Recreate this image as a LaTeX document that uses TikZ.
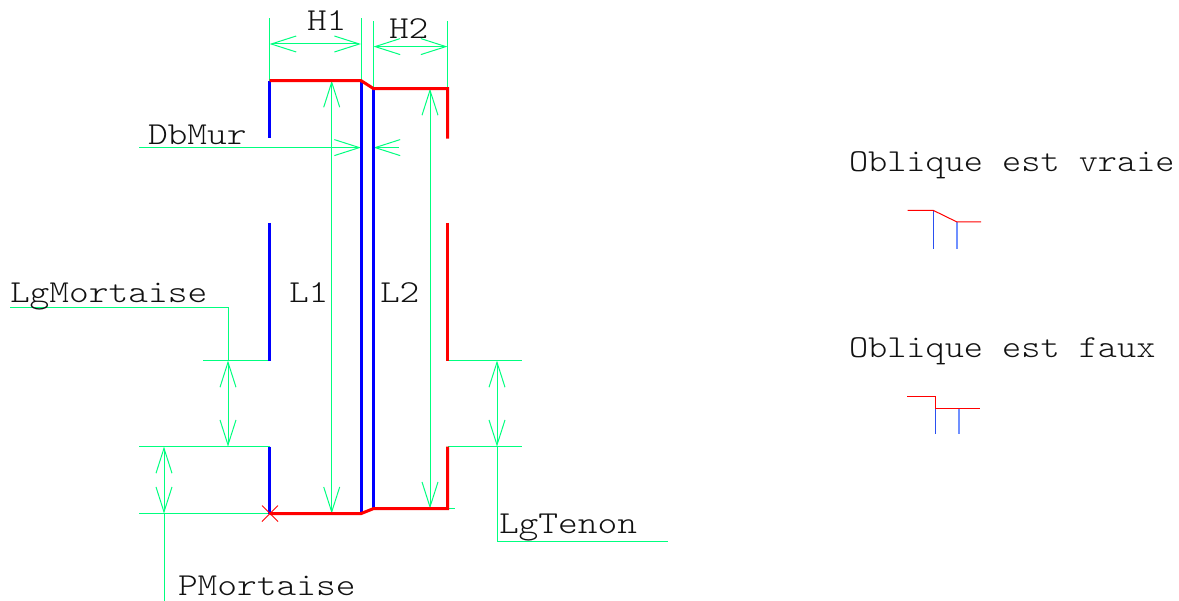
\documentclass[tikz,border=0pt]{standalone}
\usepackage{fontspec}
\setmonofont{Latin Modern Mono Light}
\usetikzlibrary{arrows.meta}
\definecolor{dimgreen}{HTML}{00FF7F}
\definecolor{wallblue}{HTML}{0000FF}
\definecolor{wallred}{HTML}{FF0000}
\definecolor{iconblue}{HTML}{2A50F0}
\definecolor{iconblueb}{HTML}{7090FF}
\definecolor{inktext}{HTML}{111111}
\tikzset{
  x=1pt,y=-1pt,
  dimline/.style={draw=dimgreen,line width=1pt},
  dimarrow/.style={dimline,{Straight Barb[length=25pt,width=16pt,line width=1pt]}-{Straight Barb[length=25pt,width=16pt,line width=1pt]}},
  tipend/.style={dimline,-{Straight Barb[length=25pt,width=16pt,line width=1pt]}},
  bluewall/.style={draw=wallblue,line width=3pt},
  redwall/.style={draw=wallred,line width=3pt,line join=miter},
  iconred/.style={draw=wallred,line width=1pt},
  iconb/.style={draw=iconblue,line width=1pt},
  iconc/.style={draw=iconblueb,line width=1.5pt},
  lbl/.style={anchor=base west,inner sep=0pt,outer sep=0pt,text=inktext,font=\ttfamily\fontsize{32}{32}\selectfont},
}
\newcommand{\cad}[1]{\scalebox{1.175}[1]{#1}}
\newcommand{\cadb}[1]{\scalebox{1.14}[1]{#1}}
\begin{document}
\begin{tikzpicture}
\useasboundingbox (0,0) rectangle (1179,601);
% key points
\coordinate (TL) at (269.6,80.6);
\coordinate (TM) at (361,80.6);
\coordinate (TN) at (373.5,88.6);
\coordinate (TR) at (447.5,88.6);
\coordinate (BL) at (269.6,513.6);
\coordinate (BM) at (361,513.6);
\coordinate (BN) at (373.5,508.6);
\coordinate (BR) at (447.5,508.6);
\coordinate (LA) at (269.6,137.6);
\coordinate (LB) at (269.6,223);
\coordinate (LC) at (269.6,360.6);
\coordinate (LD) at (269.6,446.6);
\coordinate (RA) at (447.5,138.6);
\coordinate (RB) at (447.5,223);
\coordinate (RC) at (447.5,360.6);
\coordinate (RD) at (447.5,446.6);
% extension lines
\draw[dimline] (TL) -- (269.6,18);
\draw[dimline] (TM) -- (361,18);
\draw[dimline] (TN) -- (373.5,21);
\draw[dimline] (TR) -- (447.5,21);
\draw[dimline] (LC) -- (203,360.6);
\draw[dimline] (LD) -- (139,446.6);
\draw[dimline] (BL) -- (139,513.6);
\draw[dimline] (RC) -- (522,360.6);
\draw[dimline] (RD) -- (522,446.6);
\draw[dimline] (BR) -- (455,508.6);
% dimensions
\draw[dimarrow] (269.6,44) -- (361,44);
\draw[dimarrow] (373.5,46.6) -- (447.5,46.6);
\draw[dimarrow] (331.7,80.6) -- (331.7,513.6);
\draw[dimarrow] (430,88.6) -- (430,508.6);
\draw[dimarrow] (228,360.6) -- (228,446.6);
\draw[dimarrow] (164,446.6) -- (164,513.6);
\draw[dimarrow] (497,360.6) -- (497,446.6);
\draw[tipend] (139,147.6) -- (361,147.6);
\draw[tipend] (399,147.6) -- (373.5,147.6);
% leaders
\draw[dimline] (228,360.6) -- (228,307.6) -- (10,307.6);
\draw[dimline] (164,513.6) -- (164,601);
\draw[dimline] (497,446.6) -- (497,541.6) -- (668,541.6);
% walls
\draw[bluewall] (TL) -- (LA);
\draw[bluewall] (LB) -- (LC);
\draw[bluewall] (LD) -- (BL);
\draw[bluewall] (TM) -- (BM);
\draw[bluewall] (TN) -- (BN);
\draw[redwall] (TL) -- (TM) -- (TN) -- (TR) -- (RA);
\draw[redwall] (RB) -- (RC);
\draw[redwall] (RD) -- (BR) -- (BN) -- (BM) -- (BL);
% origin cross
\draw[draw=wallred,line width=0.9pt] (262,505.6) -- (278,521.6) (262,521.6) -- (278,505.6);
% labels
\node[lbl] (h1) at (307,31) {\cad{H1}};
\node[lbl] (h2) at (389,39) {\cad{H2}};
\node[lbl] (dbmur) at (148,145) {\cad{DbMur}};
\node[lbl] (l1) at (289,303) {\cad{L1}};
\node[lbl] (l2) at (380,303) {\cad{L2}};
\node[lbl] (lgm) at (10,303) {\cad{LgMortaise}};
\node[lbl] (lgt) at (499,533) {\cad{LgTenon}};
\node[lbl] (pm) at (178,595) {\cad{PMortaise}};
\node[lbl] (ov) at (849,172) {\cadb{Oblique est vraie}};
\node[lbl] (of) at (849,358) {\cadb{Oblique est faux}};
% icons
\draw[iconb] (933.5,210.5) -- (933.5,249);
\draw[iconc] (957,222) -- (957,249);
\draw[iconred] (907.5,210.5) -- (933.5,210.5) -- (957,222) -- (981,222);
\draw[iconb] (935.5,408.5) -- (935.5,434);
\draw[iconc] (959,408.5) -- (959,434);
\draw[iconred] (907,397) -- (935.5,397) -- (935.5,408.5) -- (980,408.5);
\end{tikzpicture}
\end{document}
